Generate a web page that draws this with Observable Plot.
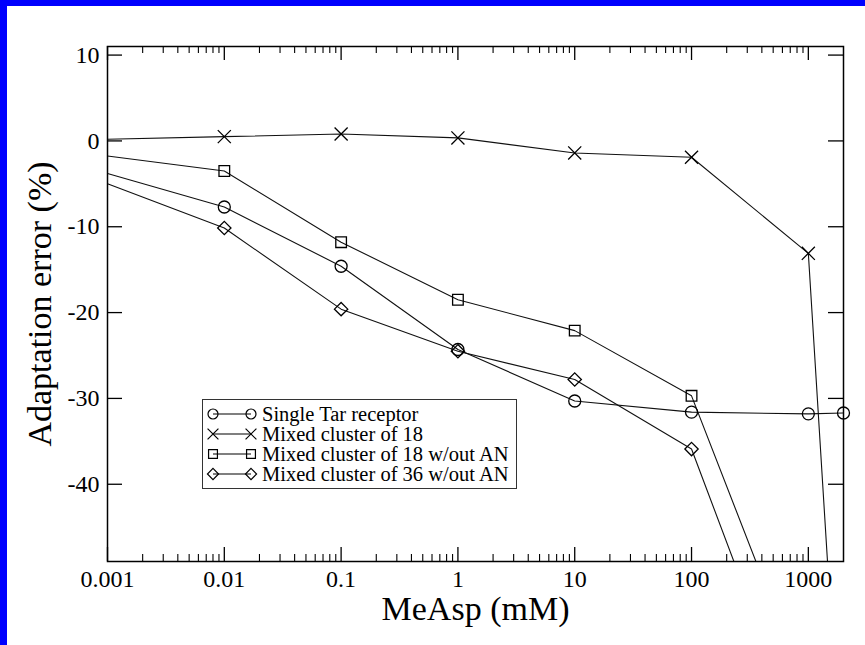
<!DOCTYPE html>
<html>
<head>
<meta charset="utf-8">
<script src="https://cdn.jsdelivr.net/npm/d3@7"></script>
<script src="https://cdn.jsdelivr.net/npm/@observablehq/plot@0.6"></script>
<style>
  html, body { margin: 0; padding: 0; background: #fff; }
  #wrap { position: relative; width: 858px; height: 639px; border-left: 7px solid #0000fe; border-top: 6px solid #0000fe; background: #fff; overflow: hidden; }
  #chart svg, #chart svg text { font-family: "Liberation Serif", "Times New Roman", Times, serif !important; }
  #legend { position: absolute; left: 195px; top: 393px; width: 315px; height: 90px; box-sizing: border-box;
            border: 1.5px solid #333; background: #fff; padding-top: 4px;
            font-family: "Liberation Serif", "Times New Roman", Times, serif; font-size: 20.5px; color: #000; }
  .row { display: flex; align-items: center; height: 20px; white-space: nowrap; }
  .row svg { flex: none; }
</style>
</head>
<body>
<div id="wrap"><div id="chart"></div><div id="legend"></div></div>
<script>
// ---- data ----
const seriesNames = ["Single Tar receptor", "Mixed cluster of 18", "Mixed cluster of 18 w/out AN", "Mixed cluster of 36 w/out AN"];
const seriesSymbols = ["circle", "times", "square", "diamond2"];

const xSingle = [0.001, 0.01, 0.1, 1, 10, 100, 1000, 2000];
const ySingle = [-3.8, -7.7, -14.6, -24.3, -30.3, -31.6, -31.8, -31.7];

const xMixed18 = [0.001, 0.01, 0.1, 1, 10, 100, 1000, 2000];
const yMixed18 = [0.2, 0.5, 0.8, 0.35, -1.4, -1.9, -13.1, -79];

const xMixed18NoAN = [0.001, 0.01, 0.1, 1, 10, 100, 1000];
const yMixed18NoAN = [-1.75, -3.5, -11.8, -18.5, -22.1, -29.7, -64.7];

const xMixed36NoAN = [0.001, 0.01, 0.1, 1, 10, 100, 1000];
const yMixed36NoAN = [-5.0, -10.15, -19.6, -24.5, -27.8, -35.9, -72];

const xTicks = [0.001, 0.01, 0.1, 1, 10, 100, 1000];
const xTickLabels = ["0.001", "0.01", "0.1", "1", "10", "100", "1000"];
const yTicks = [10, 0, -10, -20, -30, -40];
const yTickLabels = ["10", "0", "-10", "-20", "-30", "-40"];
const xLabel = "MeAsp (mM)";
const yLabel = "Adaptation error (%)";

// ---- build ----
const xs = [xSingle, xMixed18, xMixed18NoAN, xMixed36NoAN];
const ys = [ySingle, yMixed18, yMixed18NoAN, yMixed36NoAN];
const data = [];
seriesNames.forEach((s, i) => xs[i].forEach((x, j) => data.push({series: s, x, y: ys[i][j]})));

const xDomain = [0.001, 2000], yDomain = [-49, 11];
const minorTicks = [];
for (const d of xTicks) for (let k = 2; k <= 9; k++) if (d * k < xDomain[1]) minorTicks.push(d * k);

const W = 858, H = 639, mL = 100, mR = 22, mT = 40, mB = 84;
const innerW = W - mL - mR, innerH = H - mT - mB;
const font = "'Liberation Serif', 'Times New Roman', Times, serif";

const chart = Plot.plot({
  width: W, height: H,
  marginLeft: mL, marginRight: mR, marginTop: mT, marginBottom: mB,
  x: {type: "log", domain: xDomain},
  y: {domain: yDomain},
  symbol: {domain: seriesNames, range: seriesSymbols},
  style: {fontFamily: font, background: "transparent", color: "#000"},
  marks: [
    // minor / major ticks, inward on all sides
    Plot.ruleX(minorTicks, {x: d => d, insetTop: innerH - 7, stroke: "#000", strokeWidth: 1.1}),
    Plot.ruleX(minorTicks, {x: d => d, insetBottom: innerH - 7, stroke: "#000", strokeWidth: 1.1}),
    Plot.ruleX(xTicks, {x: d => d, insetTop: innerH - 14, stroke: "#000", strokeWidth: 1.3}),
    Plot.ruleX(xTicks, {x: d => d, insetBottom: innerH - 14, stroke: "#000", strokeWidth: 1.3}),
    Plot.ruleY(yTicks, {y: d => d, insetRight: innerW - 15, stroke: "#000", strokeWidth: 1.3}),
    Plot.ruleY(yTicks, {y: d => d, insetLeft: innerW - 15, stroke: "#000", strokeWidth: 1.3}),
    Plot.axisX({ticks: xTicks, tickSize: 0, tickPadding: 8, fontSize: 24, label: null,
                tickFormat: d => xTickLabels[xTicks.indexOf(d)]}),
    Plot.axisY({ticks: yTicks, tickSize: 0, tickPadding: 8, fontSize: 24, label: null,
                tickFormat: d => yTickLabels[yTicks.indexOf(d)]}),
    Plot.line(data, {x: "x", y: "y", z: "series", stroke: "#111", strokeWidth: 1.1, clip: true}),
    Plot.dot(data.filter(d => d.x > xDomain[0] && d.y >= yDomain[0]),
             {x: "x", y: "y", symbol: "series", r: 6, stroke: "#000", strokeWidth: 1.3, fill: "none"}),
    Plot.frame({stroke: "#000", strokeWidth: 1.5}),
    Plot.text([xLabel], {text: d => d, frameAnchor: "bottom", textAnchor: "middle", dy: 58, lineAnchor: "bottom", fontSize: 34, fill: "#000"}),
    Plot.text([yLabel], {text: d => d, frameAnchor: "left", textAnchor: "middle", dx: -57, rotate: -90, lineAnchor: "bottom", fontSize: 34, fill: "#000"})
  ]
});
document.getElementById("chart").appendChild(chart);

// ---- legend ----
const legend = document.getElementById("legend");
const symMap = {circle: d3.symbolCircle, times: d3.symbolTimes, square: d3.symbolSquare, diamond2: d3.symbolDiamond2};
seriesNames.forEach((name, i) => {
  const row = document.createElement("div");
  row.className = "row";
  const path = d3.symbol(symMap[seriesSymbols[i]], Math.PI * 25)();
  row.innerHTML = `<svg width="59" height="20" viewBox="0 0 59 20">
      <line x1="10" y1="10" x2="48" y2="10" stroke="#000" stroke-width="1.1"/>
      <path d="${path}" transform="translate(10,10)" fill="none" stroke="#000" stroke-width="1.2"/>
      <path d="${path}" transform="translate(48,10)" fill="none" stroke="#000" stroke-width="1.2"/>
    </svg>`;
  const span = document.createElement("span");
  span.textContent = name;
  row.appendChild(span);
  legend.appendChild(row);
});
</script>
</body>
</html>
